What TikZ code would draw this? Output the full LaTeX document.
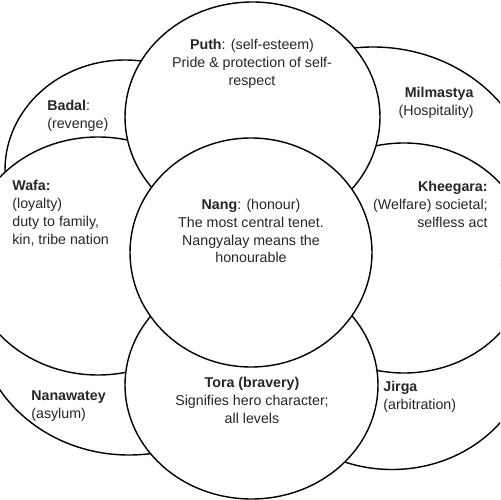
\documentclass[tikz,border=0pt]{standalone}
\usepackage{fontspec}
\setmainfont{Liberation Sans}

\begin{document}
\begin{tikzpicture}[
        x=0.02cm, y=-0.02cm,
        ring/.style={draw, fill=white, line width=0.8pt},
        every node/.style={inner sep=0pt, text=black!85, font=\fontsize{8.1}{10.2}\selectfont},
        lefttext/.style={anchor=west, align=left},
        righttext/.style={anchor=east, align=right},
        midtext/.style={anchor=center, align=center}
    ]
    \useasboundingbox (0,0) rectangle (500,500);
    \clip (0,0) rectangle (500,500);

    % Corner rings
    \draw[ring] (125,170) ellipse [x radius=120, y radius=110];     % Badal
    \draw[ring] (373,194) ellipse [x radius=162, y radius=147];     % Milmastya
    \draw[ring] (129,317) ellipse [x radius=152, y radius=138];     % Nanawatey
    \draw[ring] (392,343.5) ellipse [x radius=139, y radius=126];   % Jirga
    % Side rings
    \draw[ring] (98,256) ellipse [x radius=131, y radius=119];      % Wafa
    \draw[ring] (404,258) ellipse [x radius=126.5, y radius=115];   % Kheegara
    \draw[ring] (252.5,117) ellipse [x radius=127.5, y radius=115]; % Puth
    \draw[ring] (251.5,385) ellipse [x radius=126.5, y radius=114]; % Tora
    % Centre ring
    \draw[ring] (251,252.5) ellipse [x radius=121, y radius=114.5]; % Nang

    % Nodes
    \node[midtext] (puth) at (252,63.5) {\textbf{Puth}: (self-esteem)\\Pride \& protection of self-\\respect};
    \node[lefttext] (badal) at (47,115.5) {\textbf{Badal}:\\(revenge)};
    \node[righttext] (milmastya) at (474,102.5) {\textbf{Milmastya}\\(Hospitality)};
    \node[lefttext] (wafa) at (12,213) {\textbf{Wafa:}\\(loyalty)\\duty to family,\\kin, tribe nation};
    \node[midtext] (nang) at (251,231) {\textbf{Nang}: (honour)\\The most central tenet.\\Nangyalay means the\\honourable};
    \node[righttext] (kheegara) at (488,204) {\textbf{Kheegara:}\\(Welfare) societal;\\selfless act};
    \node[lefttext] (nanawatey) at (31,406.5) {\textbf{Nanawatey}\\(asylum)};
    \node[midtext] (tora) at (252,400) {\textbf{Tora (bravery)}\\Signifies hero character;\\all levels};
    \node[lefttext] (jirga) at (383,396.5) {\textbf{Jirga}\\(arbitration)};

\end{tikzpicture}
\end{document}
